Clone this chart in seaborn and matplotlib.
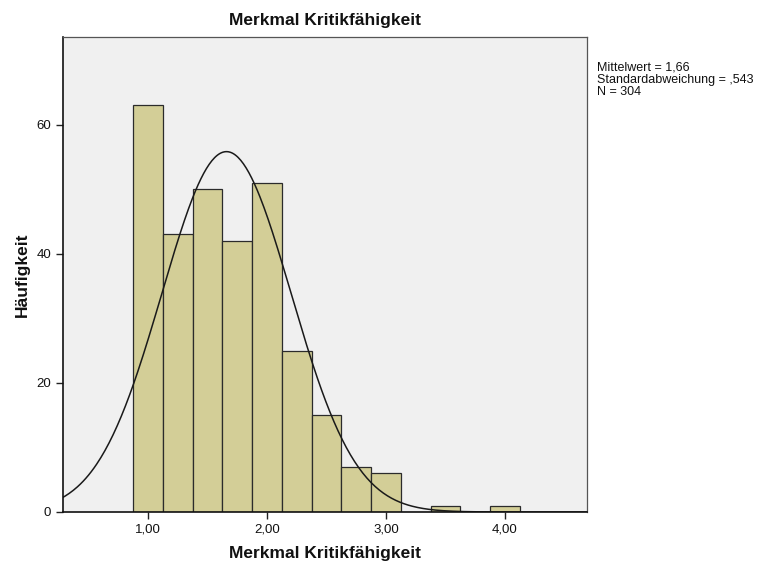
import numpy as np
import pandas as pd
import matplotlib.pyplot as plt
import seaborn as sns

# Histogram data (bin centres and counts)
bin_centers = [1.00, 1.25, 1.50, 1.75, 2.00, 2.25, 2.50, 2.75, 3.00, 3.25, 3.50, 3.75, 4.00]
counts = [63, 43, 50, 42, 51, 25, 15, 7, 6, 0, 1, 0, 1]
bin_width = 0.25

mean_val = 1.66
std_val = 0.543
n_val = 304

x_ticks = [1, 2, 3, 4]
x_tick_labels = ['1,00', '2,00', '3,00', '4,00']
y_ticks = [0, 20, 40, 60]

sns.set_style('white')
plt.rcParams['font.family'] = ['Liberation Sans Narrow', 'Liberation Sans', 'DejaVu Sans']
plt.rcParams['text.color'] = '#111111'
plt.rcParams['axes.labelcolor'] = '#111111'
plt.rcParams['xtick.color'] = '#111111'
plt.rcParams['ytick.color'] = '#111111'

df = pd.DataFrame({'wert': bin_centers, 'anzahl': counts})
lo = bin_centers[0] - bin_width / 2
hi = bin_centers[-1] + bin_width / 2

fig = plt.figure(figsize=(7.75, 5.7), dpi=100)
ax = fig.add_axes([63 / 775, 58 / 570, 524 / 775, 475 / 570])
ax.set_facecolor('#f0f0f0')

sns.histplot(data=df, x='wert', weights='anzahl', binwidth=bin_width, binrange=(lo, hi), ax=ax,
             color='#d3ce97', alpha=1, edgecolor='#2b2b2b', linewidth=0.9)

# Normal curve scaled to the histogram
xs = np.linspace(0.2, 4.8, 400)
ys = n_val * bin_width / (std_val * np.sqrt(2 * np.pi)) * np.exp(-0.5 * ((xs - mean_val) / std_val) ** 2)
sns.lineplot(x=xs, y=ys, ax=ax, color='#1a1a1a', linewidth=1.1)

ax.set_xlim(0.286, 4.69)
ax.set_ylim(0, 73.6)
ax.set_xticks(x_ticks)
ax.set_xticklabels(x_tick_labels, fontsize=9.5)
ax.set_yticks(y_ticks)
ax.set_yticklabels([str(v) for v in y_ticks], fontsize=9.5)
ax.tick_params(axis='both', direction='out', length=5, width=1, color='#222222', bottom=True, left=True)

for side in ['left', 'bottom']:
    ax.spines[side].set_color('#111111')
    ax.spines[side].set_linewidth(1.2)
for side in ['top', 'right']:
    ax.spines[side].set_color('#555555')
    ax.spines[side].set_linewidth(0.9)

ax.set_title('Merkmal Kritikfähigkeit', fontsize=12.5, fontweight='bold', pad=9)
ax.set_xlabel('Merkmal Kritikfähigkeit', fontsize=12.5, fontweight='bold', labelpad=7)
ax.set_ylabel('Häufigkeit', fontsize=12.5, fontweight='bold', labelpad=5)

fig.text(597 / 775, 1 - 62 / 570,
         'Mittelwert = 1,66\nStandardabweichung = ,543\nN = 304',
         fontsize=9, va='top', ha='left', linespacing=1.0)

plt.savefig('out.png', dpi=100)
